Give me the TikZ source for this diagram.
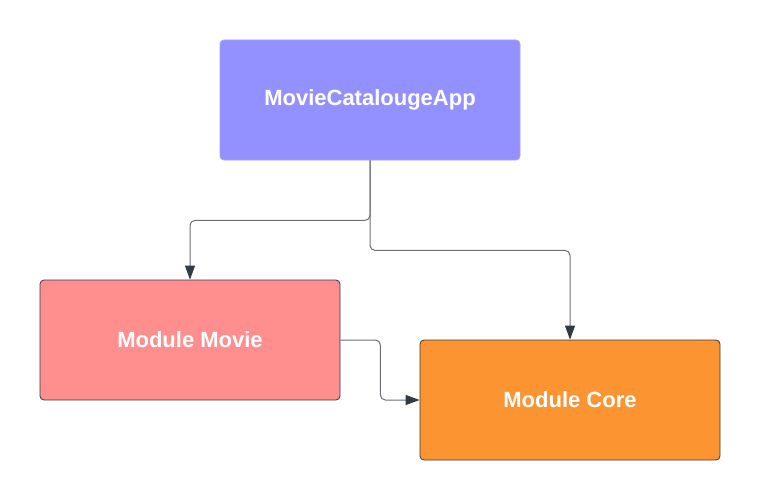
\documentclass[tikz,border=0pt]{standalone}
\usepackage{fontspec}
\setmainfont{Liberation Sans}
\usetikzlibrary{arrows.meta}
\definecolor{appblue}{HTML}{9391FF}
\definecolor{moviered}{HTML}{FF8E8E}
\definecolor{coreorange}{HTML}{FC9432}
\definecolor{linkgray}{HTML}{6B6E75}
\definecolor{tipgray}{HTML}{333A44}
\begin{document}
\begin{tikzpicture}[x=1pt,y=-1pt,>={Triangle[length=14pt,width=10pt]},
  module/.style={rounded corners=4pt,minimum width=300pt,minimum height=120pt,
    font=\bfseries\fontsize{22}{26}\selectfont,text=white,line width=0.8pt},
  link/.style={->,draw=linkgray,line width=1pt,rounded corners=5pt,
    arrows={->[color=tipgray]}}]
  \useasboundingbox (0,0) rectangle (760,500);
  \node[module,fill=appblue,draw=appblue!85!white] (app) at (370,100) {MovieCatalougeApp};
  \node[module,fill=moviered,draw=tipgray] (movie) at (190,340) {Module Movie};
  \node[module,fill=coreorange,draw=tipgray] (core) at (570,400) {Module Core};
  \draw[link] (app.south) -- ++(0,60) -| (movie.north);
  \draw[link] (app.south) -- ++(0,90) -| (core.north);
  \draw[link] (movie.east) -- ++(40,0) |- (core.west);
\end{tikzpicture}
\end{document}
